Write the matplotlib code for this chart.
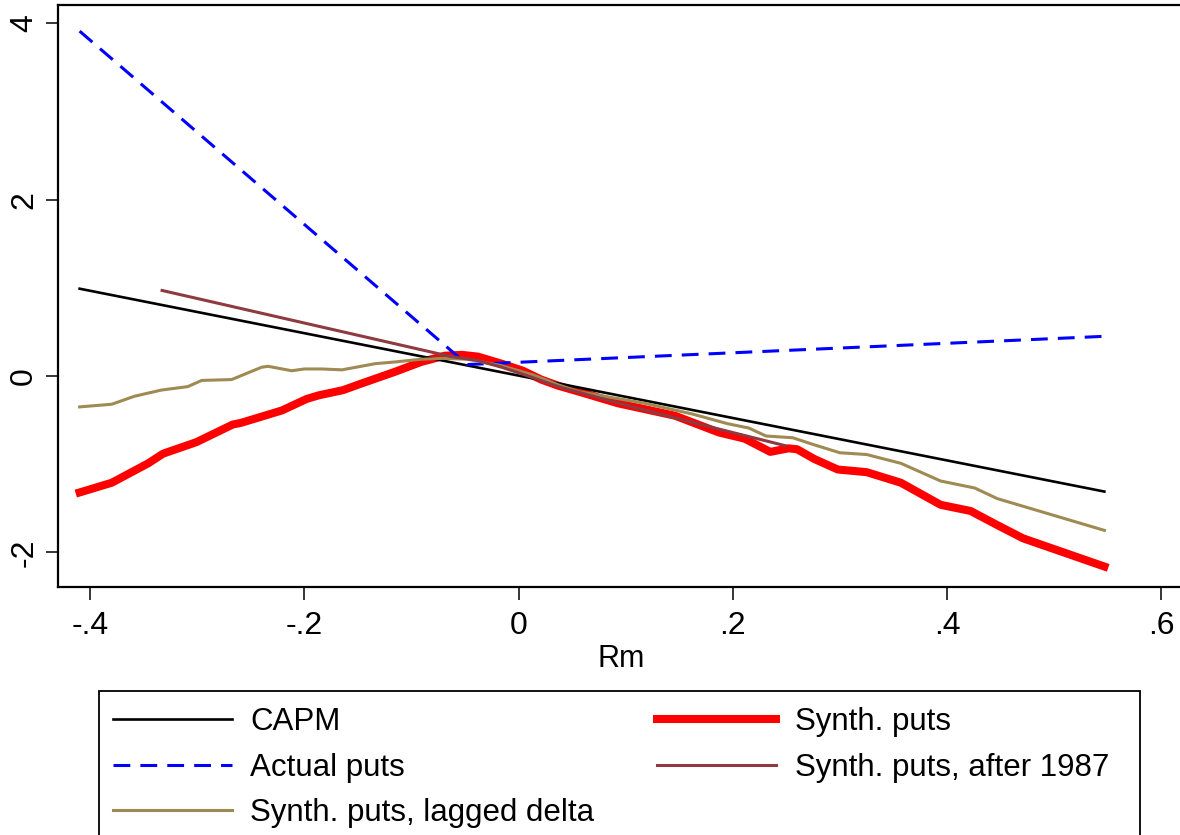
import matplotlib
matplotlib.use("Agg")
import matplotlib.pyplot as plt
from matplotlib.patches import Rectangle
from matplotlib.lines import Line2D

plt.rcParams.update({
    "font.family": ["Liberation Sans", "DejaVu Sans"],
    "font.size": 22,
})

# CAPM fit
capm_x = [-0.410, 0.547]
capm_y = [0.99, -1.31]

# actual put returns (piecewise linear fit)
actual_x = [-0.410, -0.048, 0.547]
actual_y = [3.91, 0.13, 0.45]

# synthetic puts
synth_x = [-0.410, -0.380, -0.346, -0.332, -0.301, -0.267, -0.259, -0.221, -0.198,
           -0.187, -0.164, -0.148, -0.115, -0.091, -0.069, -0.053, -0.038, -0.016,
           0.004, 0.021, 0.037, 0.057, 0.093, 0.146, 0.187, 0.211, 0.235, 0.252,
           0.260, 0.276, 0.298, 0.325, 0.357, 0.394, 0.422, 0.447, 0.471, 0.547]
synth_y = [-1.32, -1.21, -0.99, -0.88, -0.75, -0.55, -0.53, -0.39, -0.26,
           -0.22, -0.16, -0.09, 0.05, 0.16, 0.23, 0.24, 0.22, 0.14,
           0.06, -0.04, -0.11, -0.18, -0.31, -0.45, -0.64, -0.71, -0.86, -0.82,
           -0.83, -0.94, -1.06, -1.09, -1.21, -1.46, -1.53, -1.69, -1.84, -2.16]

# synthetic puts, lagged delta
lag_x = [-0.410, -0.380, -0.359, -0.334, -0.309, -0.296, -0.268, -0.240, -0.234,
         -0.212, -0.200, -0.184, -0.165, -0.134, -0.115, -0.091, -0.071, -0.048,
         -0.017, 0.014, 0.037, 0.057, 0.118, 0.162, 0.195, 0.215, 0.231, 0.256,
         0.276, 0.300, 0.325, 0.357, 0.394, 0.426, 0.447, 0.547]
lag_y = [-0.35, -0.32, -0.23, -0.16, -0.12, -0.05, -0.04, 0.10, 0.11,
         0.06, 0.08, 0.08, 0.07, 0.14, 0.16, 0.19, 0.20, 0.19,
         0.12, 0.01, -0.10, -0.18, -0.31, -0.43, -0.54, -0.59, -0.68, -0.70,
         -0.78, -0.87, -0.89, -0.99, -1.19, -1.27, -1.39, -1.75]

# synthetic puts, after 1987
post_x = [-0.333, -0.063, -0.040, -0.016, 0.004, 0.037, 0.106, 0.180, 0.249]
post_y = [0.97, 0.22, 0.18, 0.10, 0.02, -0.12, -0.35, -0.58, -0.79]

xticks = [-0.4, -0.2, 0.0, 0.2, 0.4, 0.6]
xticklabels = ["-.4", "-.2", "0", ".2", ".4", ".6"]
yticks = [-2, 0, 2, 4]
yticklabels = ["-2", "0", "2", "4"]

c_lag = "#9E8A52"
c_post = "#8E3A40"

fig = plt.figure(figsize=(11.8, 8.35), dpi=100)
ax = fig.add_axes([0.04915, 0.2970, 0.962, 0.6975])

ax.plot(synth_x, synth_y, color="red", lw=5.8, solid_joinstyle="round", zorder=2)
ax.plot(capm_x, capm_y, color="black", lw=1.9, zorder=3)
ax.plot(actual_x, actual_y, color="blue", lw=2.2, dashes=(5.5, 3.3), zorder=3)
ax.plot(lag_x, lag_y, color=c_lag, lw=2.2, zorder=4)
ax.plot(post_x, post_y, color=c_post, lw=2.2, zorder=5)

ax.set_xlim(-0.4302, 0.6299)
ax.set_ylim(-2.392, 4.211)
ax.set_xticks(xticks)
ax.set_xticklabels(xticklabels, fontsize=23)
ax.set_yticks(yticks)
ax.set_yticklabels(yticklabels, rotation=90, va="center", fontsize=23)
ax.tick_params(length=9, width=1.1, color="black")
ax.tick_params(axis="x", pad=8.5)
ax.tick_params(axis="y", pad=4.5)
ax.set_xlabel("Rm")
ax.xaxis.set_label_coords(0.496, -0.098)

for s in ax.spines.values():
    s.set_linewidth(1.6)
ax.spines["right"].set_visible(False)

handles = [
    Line2D([], [], color="black", lw=1.9),
    Line2D([], [], color="blue", lw=2.2, dashes=(5.5, 3.3)),
    Line2D([], [], color=c_lag, lw=2.2),
    Line2D([], [], color="red", lw=5.8),
    Line2D([], [], color=c_post, lw=2.2),
]
labels = ["CAPM", "Actual puts", "Synth. puts, lagged delta",
          "Synth. puts", "Synth. puts, after 1987"]
fig.legend(handles, labels, loc="upper left", bbox_to_anchor=(113 / 1180, 1 - 707 / 835),
           ncol=2, frameon=False, borderpad=0, borderaxespad=0,
           handlelength=3.8, handletextpad=0.6, columnspacing=2.0,
           labelspacing=0.5, fontsize=22.5)

# legend frame, running off the bottom edge
fig.add_artist(Rectangle((99 / 1180, -0.05), (1140 - 99) / 1180, 0.05 + (835 - 691) / 835,
                         transform=fig.transFigure, fill=False, lw=1.3, ec="black"))

fig.savefig("out.png", dpi=100)
